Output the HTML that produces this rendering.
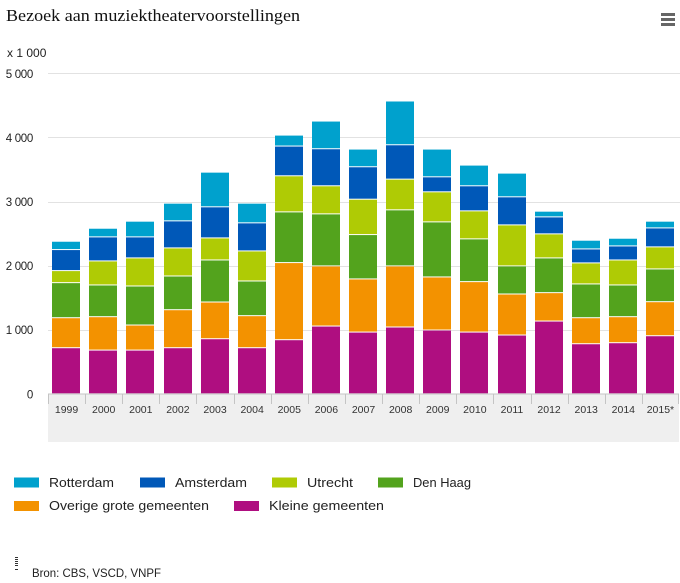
<!DOCTYPE html>
<html>
<head>
<meta charset="utf-8">
<title>Bezoek aan muziektheatervoorstellingen</title>
<style>
html,body{margin:0;padding:0;background:#fff;}
svg{display:block;}
text{font-family:"Liberation Sans",sans-serif;fill:#222;}
</style>
</head>
<body>
<svg id="chart" width="680" height="583" viewBox="0 0 680 583" xmlns="http://www.w3.org/2000/svg">
  <rect x="0" y="0" width="680" height="583" fill="#fff"/>
  <text x="6" y="21" textLength="294" lengthAdjust="spacingAndGlyphs" style="font-family:'Liberation Serif',serif;font-size:17px;fill:#111">Bezoek aan muziektheatervoorstellingen</text>
  <g fill="#666">
    <rect x="661" y="13" width="14" height="3"/>
    <rect x="661" y="18" width="14" height="3"/>
    <rect x="661" y="23" width="14" height="3"/>
  </g>
  <text x="7" y="57" style="font-size:12px">x 1 000</text>
  <g id="grid"></g>
  <g id="yaxis"></g>
  <rect x="48" y="394" width="631" height="48" fill="#efefef"/>
  <g id="bars"></g>
  <g id="xaxis"></g>

  <g style="font-size:13px">
    <g>
      <rect x="14" y="477.500" width="25" height="10" fill="#00a1cd"/>
      <text x="49" y="487" textLength="65" lengthAdjust="spacingAndGlyphs">Rotterdam</text>
    </g>
    <g>
      <rect x="140" y="477.500" width="25" height="10" fill="#0058b8"/>
      <text x="175" y="487" textLength="72" lengthAdjust="spacingAndGlyphs">Amsterdam</text>
    </g>
    <g>
      <rect x="272" y="477.500" width="25" height="10" fill="#afcb05"/>
      <text x="307" y="487" textLength="46" lengthAdjust="spacingAndGlyphs">Utrecht</text>
    </g>
    <g>
      <rect x="378" y="477.500" width="25" height="10" fill="#53a31d"/>
      <text x="413" y="487" textLength="58" lengthAdjust="spacingAndGlyphs">Den Haag</text>
    </g>
    <g>
      <rect x="14" y="501" width="25" height="10" fill="#f39200"/>
      <text x="49" y="510" textLength="160" lengthAdjust="spacingAndGlyphs">Overige grote gemeenten</text>
    </g>
    <g>
      <rect x="234" y="501" width="25" height="10" fill="#af0e80"/>
      <text x="269" y="510" textLength="115" lengthAdjust="spacingAndGlyphs">Kleine gemeenten</text>
    </g>
  </g>

  <g fill="#333">
    <rect x="15" y="557" width="3" height="1"/>
    <rect x="15" y="559" width="3" height="1"/>
    <rect x="15" y="561" width="3" height="1"/>
    <rect x="15" y="563" width="3" height="1"/>
    <rect x="15" y="565" width="3" height="1"/>
    <rect x="15" y="569" width="3" height="1"/>
  </g>
  <text x="32" y="577" textLength="129" lengthAdjust="spacingAndGlyphs" style="font-size:12px">Bron: CBS, VSCD, VNPF</text>
</svg>
<script>
const categories = ['1999','2000','2001','2002','2003','2004','2005','2006','2007','2008','2009','2010','2011','2012','2013','2014','2015*'];
const yTicks = [0,1000,2000,3000,4000,5000];
const yTickLabels = ['0','1 000','2 000','3 000','4 000','5 000'];
const seriesNames = ['kleine-gemeenten','overige-grote-gemeenten','den-haag','utrecht','amsterdam','rotterdam'];
const kleine = [719,682,682,719,859,719,844,1057,963,1042,995,963,917,1135,781,797,906];
const overige = [468,521,391,593,573,500,1203,938,829,953,828,787,640,443,406,406,531];
const denHaag = [547,495,609,526,656,541,791,812,692,875,859,667,438,542,527,495,511];
const utrecht = [188,375,438,438,344,469,563,438,552,479,469,437,640,375,328,390,344];
const amsterdam = [328,375,328,422,485,438,464,578,506,536,234,391,438,265,218,219,296];
const rotterdam = [130,135,245,276,541,307,171,432,276,683,433,323,370,89,136,120,105];
const seriesValues = [kleine, overige, denHaag, utrecht, amsterdam, rotterdam];
const seriesColors = ['#af0e80','#f39200','#53a31d','#afcb05','#0058b8','#00a1cd'];

const NS = 'http://www.w3.org/2000/svg';
const plotLeft = 48, plotWidth = 631, step = plotWidth / categories.length, barWidth = 28;
const y0 = 394.3, pxPerUnit = 64.1 / 1000;
function yScale(v){ return y0 - v * pxPerUnit; }
function xScale(i){ return plotLeft + step * i; }
function make(tag, attrs, parent){
  const el = document.createElementNS(NS, tag);
  for (const k in attrs) el.setAttribute(k, attrs[k]);
  parent.appendChild(el);
  return el;
}
const gridG = document.getElementById('grid');
const yG = document.getElementById('yaxis');
const barsG = document.getElementById('bars');
const xG = document.getElementById('xaxis');

yTicks.forEach(function(t, i){
  if (t > 0) {
    const line = make('rect', {x: plotLeft, y: Math.floor(yScale(t)), width: 632, height: 1, fill: '#e2e2e2'}, gridG);
    
    
  }
  const label = make('text', {x: 33, y: yScale(t) + 4, 'text-anchor': 'end', style: 'font-size:11.5px;letter-spacing:-0.3px'}, yG);
  label.textContent = yTickLabels[i];
  
  
});

categories.forEach(function(cat, i){
  let cum = 0;
  const cx = xScale(i) + step / 2;
  seriesValues.forEach(function(vals, s){
    const top = yScale(cum + vals[i]);
    const bottom = yScale(cum);
    const seg = make('rect', {x: Math.round(cx - barWidth / 2 - 0.4), y: top, width: barWidth, height: Math.max(0, bottom - top - 1), fill: seriesColors[s]}, barsG);
    
    
    cum += vals[i];
  });
  const tick = make('rect', {x: Math.round(xScale(i)), y: 394, width: 1, height: 10, fill: '#c4c4c4'}, xG);
  
  
  const label = make('text', {x: cx, y: 413, 'text-anchor': 'middle', style: 'font-size:10.5px;fill:#333'}, xG);
  label.textContent = cat;
  
  
});
const lastTick = make('rect', {x: plotLeft + plotWidth - 1, y: 394, width: 1, height: 10, fill: '#c4c4c4'}, xG);


const axisLine = make('rect', {x: plotLeft, y: 393.5, width: plotWidth, height: 1, fill: '#c4c4c4'}, xG);


</script>
</body>
</html>
